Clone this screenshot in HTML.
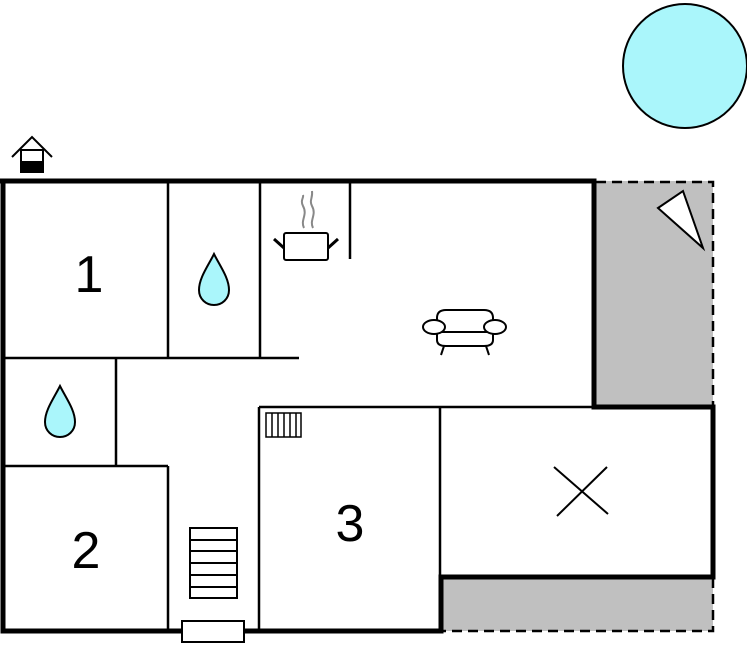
<!DOCTYPE html>
<html><head><style>html,body{margin:0;padding:0;background:#fff}svg{display:block}</style></head>
<body>
<svg width="747" height="652" viewBox="0 0 747 652" xmlns="http://www.w3.org/2000/svg" font-family="Liberation Sans, sans-serif">
<!-- grey terraces -->
<rect x="596" y="181" width="117" height="225" fill="#c0c0c0"/>
<rect x="442" y="578" width="271" height="53" fill="#c0c0c0"/>
<path d="M596 182 H713 V406" fill="none" stroke="#000" stroke-width="2.5" stroke-dasharray="10,6"/>
<path d="M713 578 V631 H442" fill="none" stroke="#000" stroke-width="2.5" stroke-dasharray="10,6"/>
<!-- sun -->
<circle cx="685" cy="66" r="62" fill="#aaf6fb" stroke="#000" stroke-width="2"/>
<!-- thin walls -->
<g stroke="#000" stroke-width="2.5" fill="none">
<line x1="168" y1="181" x2="168" y2="358"/>
<line x1="260" y1="181" x2="260" y2="358"/>
<line x1="4" y1="358" x2="299" y2="358"/>
<line x1="350" y1="181" x2="350" y2="259"/>
<line x1="116" y1="358" x2="116" y2="466"/>
<line x1="4" y1="466" x2="168" y2="466"/>
<line x1="168" y1="466" x2="168" y2="631"/>
<line x1="259" y1="407" x2="593" y2="407"/>
<line x1="259" y1="407" x2="259" y2="631"/>
<line x1="440" y1="407" x2="440" y2="578"/>
</g>
<!-- thick walls -->
<g stroke="#000" stroke-width="5" fill="none">
<path d="M3 181 V631 H441 V577 H713 V407 H594 V181 H0"/>
</g>
<!-- labels -->
<text x="89" y="292" font-size="52" text-anchor="middle">1</text>
<text x="86" y="568" font-size="52" text-anchor="middle">2</text>
<text x="350" y="541" font-size="52" text-anchor="middle">3</text>
<!-- drops -->
<path d="M214 254 C208 266 199 278 199 290 C199 299 206 305 214 305 C222 305 229 299 229 290 C229 278 220 266 214 254Z" fill="#aaf6fb" stroke="#000" stroke-width="2"/>
<path d="M60 386 C54 398 45 410 45 422 C45 431 52 437 60 437 C68 437 75 431 75 422 C75 410 66 398 60 386Z" fill="#aaf6fb" stroke="#000" stroke-width="2"/>
<!-- entrance icon -->
<g stroke="#000" stroke-width="2" fill="none">
<path d="M12 157 L32 137 L52 157"/>
<rect x="21" y="150" width="22" height="22" fill="#fff"/>
</g>
<rect x="20" y="161" width="24" height="12" fill="#000"/>
<!-- pot -->
<g stroke="#000" stroke-width="2" fill="none">
<rect x="284" y="233" width="44" height="27" rx="2" fill="#fff"/>
<line x1="274" y1="239" x2="284" y2="248" stroke-width="3"/>
<line x1="338" y1="239" x2="328" y2="248" stroke-width="3"/>
</g>
<g stroke="#888" stroke-width="2" fill="none">
<path d="M304 228 C300 220 308 215 303 206 C300 200 304 198 303 195"/>
<path d="M313 228 C309 220 317 215 312 206 C309 200 313 198 312 191"/>
</g>
<!-- sofa -->
<g stroke="#000" stroke-width="2" fill="#fff">
<path d="M437 332 V318 Q437 310 446 310 H484 Q493 310 493 318 V332"/>
<path d="M437 332 V340 Q437 346 446 346 H484 Q493 346 493 340 V332 Z"/>
<line x1="444" y1="346" x2="441" y2="355"/>
<line x1="486" y1="346" x2="489" y2="355"/>
<ellipse cx="434" cy="327" rx="11" ry="7"/>
<ellipse cx="495" cy="327" rx="11" ry="7"/>
</g>
<!-- triangle -->
<polygon points="658,208 683,191 703,248" fill="#fff" stroke="#000" stroke-width="2"/>
<!-- radiator -->
<g stroke="#000" stroke-width="1.5" fill="#fff">
<rect x="266" y="413" width="35" height="24"/>
<line x1="272" y1="413" x2="272" y2="437"/>
<line x1="278" y1="413" x2="278" y2="437"/>
<line x1="284" y1="413" x2="284" y2="437"/>
<line x1="290" y1="413" x2="290" y2="437"/>
<line x1="296" y1="413" x2="296" y2="437"/>
</g>
<!-- stairs -->
<g stroke="#000" stroke-width="2" fill="#fff">
<rect x="190" y="528" width="47" height="70"/>
<line x1="190" y1="540" x2="237" y2="540"/>
<line x1="190" y1="551" x2="237" y2="551"/>
<line x1="190" y1="563" x2="237" y2="563"/>
<line x1="190" y1="575" x2="237" y2="575"/>
<line x1="190" y1="587" x2="237" y2="587"/>
</g>
<!-- door -->
<rect x="182" y="621" width="62" height="21" fill="#fff" stroke="#000" stroke-width="2"/>
<!-- X -->
<g stroke="#000" stroke-width="2">
<line x1="554" y1="467" x2="608" y2="514"/>
<line x1="607" y1="467" x2="557" y2="516"/>
</g>
</svg>
</body></html>
